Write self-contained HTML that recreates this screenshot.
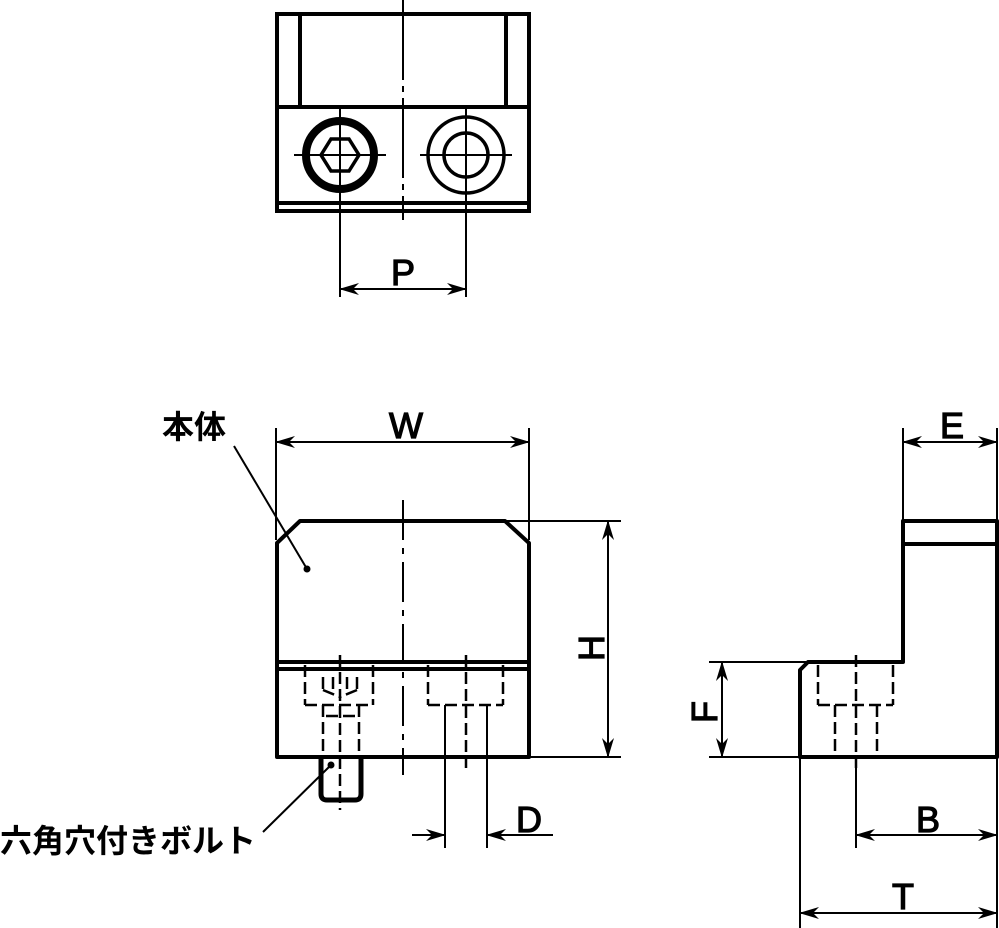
<!DOCTYPE html>
<html><head><meta charset="utf-8"><style>
html,body{margin:0;padding:0;background:#fff}
svg{display:block}
text{font-family:"Liberation Sans","Noto Sans CJK JP",sans-serif;fill:#000}
</style></head><body>
<svg width="999" height="928" viewBox="0 0 999 928" xmlns="http://www.w3.org/2000/svg">
<defs>
<marker id="a" viewBox="0 0 20 12" refX="19" refY="6" markerWidth="20" markerHeight="12" markerUnits="userSpaceOnUse" orient="auto-start-reverse">
<path d="M0,0 L20,6 L0,12 L6,6 Z" fill="#000"/>
</marker>
</defs>
<g fill="none" stroke="#000" stroke-linecap="butt">
<!-- TOP VIEW -->
<rect x="277" y="14" width="252" height="197" stroke-width="4"/>
<line x1="300" y1="14" x2="300" y2="107" stroke-width="4"/>
<line x1="506" y1="14" x2="506" y2="107" stroke-width="4"/>
<line x1="277" y1="107" x2="529" y2="107" stroke-width="4"/>
<line x1="277" y1="203" x2="529" y2="203" stroke-width="4"/>
<line x1="403" y1="0" x2="403" y2="220" stroke-width="2" stroke-dasharray="80,6,6,6"/>
<circle cx="340" cy="155" r="34" stroke-width="8"/>
<polygon points="321,155 331,139 349,139 359,155 349,171 331,171" stroke-width="3.5"/>
<circle cx="466" cy="155" r="38" stroke-width="3.5"/>
<circle cx="466" cy="155" r="22" stroke-width="3.5"/>
<line x1="294" y1="155" x2="386" y2="155" stroke-width="2"/>
<line x1="420" y1="155" x2="512" y2="155" stroke-width="2"/>
<line x1="340" y1="108" x2="340" y2="297" stroke-width="2"/>
<line x1="466" y1="108" x2="466" y2="297" stroke-width="2"/>
<line x1="340" y1="289" x2="466" y2="289" stroke-width="2" marker-start="url(#a)" marker-end="url(#a)"/>

<!-- FRONT VIEW -->
<path d="M277,757 L277,543 L300,521 L505,521 L529,543 L529,757 Z" stroke-width="4" stroke-linejoin="round"/>
<line x1="277" y1="662" x2="529" y2="662" stroke-width="4"/>
<line x1="277" y1="669" x2="529" y2="669" stroke-width="4"/>
<line x1="403" y1="500" x2="403" y2="775" stroke-width="2" stroke-dasharray="40,8,6,8"/>
<path d="M321,757 L321,794 Q321,800 327,800 L355,800 Q361,800 361,794 L361,757" stroke-width="5"/>
<g stroke-width="2.5" stroke-dasharray="12,5">
<line x1="305" y1="665" x2="305" y2="705"/><line x1="373" y1="665" x2="373" y2="705"/>
<line x1="305" y1="705" x2="373" y2="705"/>
<line x1="323" y1="705" x2="323" y2="757"/><line x1="359" y1="705" x2="359" y2="757"/>
<line x1="326" y1="716" x2="356" y2="716"/>
<line x1="323" y1="677" x2="323" y2="690"/><line x1="357" y1="677" x2="357" y2="690"/>
<line x1="333" y1="677" x2="333" y2="690"/><line x1="347" y1="677" x2="347" y2="690"/>
<line x1="323" y1="690" x2="340" y2="697"/><line x1="357" y1="690" x2="340" y2="697"/>
<line x1="340" y1="655" x2="340" y2="810"/>
<line x1="428" y1="665" x2="428" y2="705"/><line x1="503" y1="665" x2="503" y2="705"/>
<line x1="428" y1="705" x2="503" y2="705"/>
<line x1="466" y1="655" x2="466" y2="768"/>
</g>
<line x1="445" y1="705" x2="445" y2="848" stroke-width="2"/>
<line x1="487" y1="705" x2="487" y2="848" stroke-width="2"/>
<line x1="412" y1="835" x2="445" y2="835" stroke-width="2" marker-end="url(#a)"/>
<line x1="553" y1="835" x2="487" y2="835" stroke-width="2" marker-end="url(#a)"/>
<line x1="276" y1="428" x2="276" y2="540" stroke-width="2"/>
<line x1="529" y1="428" x2="529" y2="540" stroke-width="2"/>
<line x1="276" y1="442" x2="529" y2="442" stroke-width="2" marker-start="url(#a)" marker-end="url(#a)"/>
<line x1="505" y1="521" x2="621" y2="521" stroke-width="2"/>
<line x1="529" y1="757" x2="621" y2="757" stroke-width="2"/>
<line x1="608" y1="521" x2="608" y2="757" stroke-width="2" marker-start="url(#a)" marker-end="url(#a)"/>
<line x1="234" y1="446" x2="307" y2="569" stroke-width="2"/>
<circle cx="307" cy="569" r="3.5" fill="#000" stroke="none"/>
<line x1="263" y1="832" x2="331" y2="765" stroke-width="2"/>
<circle cx="331" cy="765" r="3.5" fill="#000" stroke="none"/>

<!-- SIDE VIEW -->
<path d="M800,757 L800,670 L808,662 L903,662 L903,521 L997,521 L997,757 Z" stroke-width="4" stroke-linejoin="round"/>
<line x1="903" y1="544" x2="997" y2="544" stroke-width="4"/>
<g stroke-width="2.5" stroke-dasharray="12,5">
<line x1="818" y1="665" x2="818" y2="705"/><line x1="893" y1="665" x2="893" y2="705"/>
<line x1="818" y1="705" x2="893" y2="705"/>
<line x1="835" y1="705" x2="835" y2="757"/><line x1="877" y1="705" x2="877" y2="757"/>
<line x1="856" y1="655" x2="856" y2="768"/>
</g>
<line x1="903" y1="428" x2="903" y2="521" stroke-width="2"/>
<line x1="997" y1="428" x2="997" y2="521" stroke-width="2"/>
<line x1="903" y1="442" x2="997" y2="442" stroke-width="2" marker-start="url(#a)" marker-end="url(#a)"/>
<line x1="709" y1="662" x2="806" y2="662" stroke-width="2"/>
<line x1="709" y1="757" x2="800" y2="757" stroke-width="2"/>
<line x1="722" y1="662" x2="722" y2="757" stroke-width="2" marker-start="url(#a)" marker-end="url(#a)"/>
<line x1="856" y1="768" x2="856" y2="848" stroke-width="2"/>
<line x1="800" y1="757" x2="800" y2="928" stroke-width="2"/>
<line x1="997" y1="757" x2="997" y2="928" stroke-width="2"/>
<line x1="856" y1="835" x2="997" y2="835" stroke-width="2" marker-start="url(#a)" marker-end="url(#a)"/>
<line x1="800" y1="913" x2="997" y2="913" stroke-width="2" marker-start="url(#a)" marker-end="url(#a)"/>
</g>
<g font-size="36" text-anchor="middle" stroke="#000" stroke-width="1.2">
<text x="403" y="285">P</text>
<text x="406" y="438">W</text>
<text x="952" y="438">E</text>
<text x="529" y="832">D</text>
<text x="928" y="832">B</text>
<text x="903" y="909">T</text>
<text transform="translate(604,648) rotate(-90)">H</text>
<text transform="translate(717,712) rotate(-90)">F</text>
</g>
<text x="162" y="438" font-size="32" font-weight="bold">本体</text>
<text x="0" y="852" font-size="32" font-weight="bold">六角穴付きボルト</text>
</svg>
</body></html>
